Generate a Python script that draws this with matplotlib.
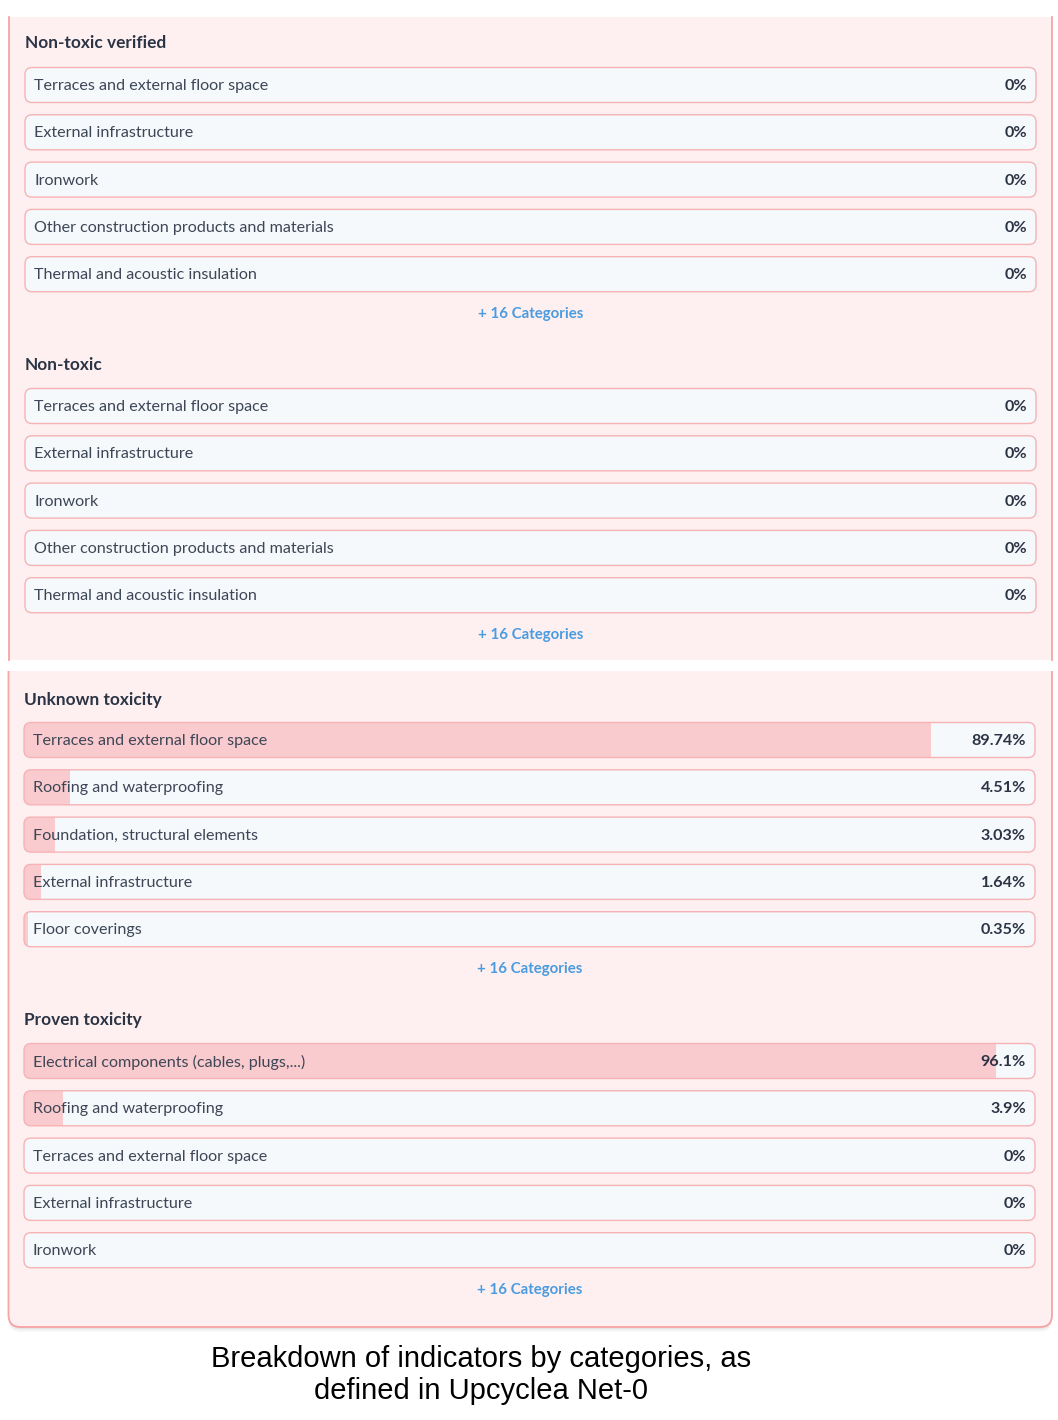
import matplotlib
matplotlib.use("Agg")
import matplotlib.pyplot as plt
from matplotlib.patches import FancyBboxPatch, Rectangle

W, H = 1058, 1420

# --- data -----------------------------------------------------------------
SECTION_TITLES = ["Non-toxic verified", "Non-toxic", "Unknown toxicity", "Proven toxicity"]

NONTOX_VERIFIED_CATS = ["Terraces and external floor space", "External infrastructure", "Ironwork",
                        "Other construction products and materials", "Thermal and acoustic insulation"]
NONTOX_VERIFIED_VALS = [0, 0, 0, 0, 0]

NONTOX_CATS = ["Terraces and external floor space", "External infrastructure", "Ironwork",
               "Other construction products and materials", "Thermal and acoustic insulation"]
NONTOX_VALS = [0, 0, 0, 0, 0]

UNKNOWN_CATS = ["Terraces and external floor space", "Roofing and waterproofing",
                "Foundation, structural elements", "External infrastructure", "Floor coverings"]
UNKNOWN_VALS = [89.74, 4.51, 3.03, 1.64, 0.35]

PROVEN_CATS = ["Electrical components (cables, plugs,...)", "Roofing and waterproofing",
               "Terraces and external floor space", "External infrastructure", "Ironwork"]
PROVEN_VALS = [96.1, 3.9, 0, 0, 0]

MORE_LABEL = "+ 16 Categories"
CAPTION = "Breakdown of indicators by categories, as\ndefined in Upcyclea Net-0"

# --- style ----------------------------------------------------------------
FONT = "Lato"
PANEL_BG = "#FEF0F0"
PANEL_EDGE = "#F7A4A4"
TRACK_BG = "#F5F9FC"
TRACK_EDGE = "#F6B3B5"
FILL = "#FACBCE"
DARK = "#2B3445"
LABEL = "#3D4656"
LINK = "#4A9BE0"

# layout (pixels): heading y, first row centre, track x-range
SECTIONS = [
    (NONTOX_VERIFIED_CATS, NONTOX_VERIFIED_VALS, 42, 85, 25, 1036),
    (NONTOX_CATS, NONTOX_VALS, 363, 406, 25, 1036),
    (UNKNOWN_CATS, UNKNOWN_VALS, 698, 740, 24, 1035),
    (PROVEN_CATS, PROVEN_VALS, 1019, 1061, 24, 1035),
]
PITCH = 47.3
TRACK_H = 35.0

fig = plt.figure(figsize=(W / 100, H / 100), dpi=100)
fig.patch.set_facecolor("white")

bg = fig.add_axes([0, 0, 1, 1])
bg.set_xlim(0, W)
bg.set_ylim(H, 0)
bg.axis("off")

# bottom panel (rounded bottom, shadow), clipped at its top
def clip_rect():
    return Rectangle((0, 671), W, 700, transform=bg.transData)

for off, a in [(5, 0.03), (3, 0.04), (1.5, 0.05)]:
    sh = FancyBboxPatch((8.5, 640), 1043.5, 687 + off, boxstyle="round,pad=0,rounding_size=12",
                        facecolor="black", edgecolor="none", alpha=a)
    bg.add_patch(sh)
    sh.set_clip_path(clip_rect())
p2 = FancyBboxPatch((8.5, 640), 1043.5, 687, boxstyle="round,pad=0,rounding_size=12",
                    facecolor=PANEL_BG, edgecolor=PANEL_EDGE, linewidth=1.3)
bg.add_patch(p2)
p2.set_clip_path(clip_rect())

# top panel (cut at top and bottom)
bg.add_patch(Rectangle((8.5, 17), 1043.5, 643, facecolor=PANEL_BG, edgecolor="none"))
bg.plot([8.5, 8.5], [17, 660], color=PANEL_EDGE, lw=1.3)
bg.plot([1052, 1052], [17, 660], color=PANEL_EDGE, lw=1.3)

tracks_all = []
for cats, vals, head_y, row0, x0, x1 in SECTIONS:
    tw = x1 - x0
    tracks = []
    for i in range(len(cats)):
        yc = row0 + i * PITCH
        t = FancyBboxPatch((x0, yc - TRACK_H / 2), tw, TRACK_H,
                           boxstyle="round,pad=0,rounding_size=7",
                           facecolor=TRACK_BG, edgecolor="none")
        bg.add_patch(t)
        tracks.append(t)
    tracks_all.append(tracks)

    # bar axes: x in percent, rows as categories
    n = len(cats)
    top = row0 - TRACK_H / 2
    bottom = row0 + (n - 1) * PITCH + TRACK_H / 2
    ax = fig.add_axes([x0 / W, 1 - bottom / H, tw / W, (bottom - top) / H])
    ax.patch.set_alpha(0)
    h = TRACK_H / PITCH
    ax.set_xlim(0, 100)
    ax.set_ylim(n - 1 + h / 2, -h / 2)
    ax.axis("off")
    bars = ax.barh(range(n), vals, height=h, color=FILL, edgecolor="none")
    for b, t in zip(bars, tracks):
        b.set_clip_path(t)

# foreground: borders and text
fg = fig.add_axes([0, 0, 1, 1])
fg.set_xlim(0, W)
fg.set_ylim(H, 0)
fg.axis("off")
fg.patch.set_alpha(0)

for (cats, vals, head_y, row0, x0, x1), title in zip(SECTIONS, SECTION_TITLES):
    tw = x1 - x0
    fg.text(x0, head_y + 1.5, title, fontsize=12.4, fontweight="bold", color=DARK,
            family=FONT, va="center", ha="left")
    for i, (c, v) in enumerate(zip(cats, vals)):
        yc = row0 + i * PITCH
        fg.add_patch(FancyBboxPatch((x0, yc - TRACK_H / 2), tw, TRACK_H,
                                    boxstyle="round,pad=0,rounding_size=7",
                                    facecolor="none", edgecolor=TRACK_EDGE, linewidth=1.0))
        fg.text(x0 + 9, yc + 1, c, fontsize=11.6, color=LABEL, family=FONT, va="center", ha="left")
        fg.text(x1 - 9, yc + 1, f"{v:g}%", fontsize=11.6, fontweight="bold", color=DARK,
                family=FONT, va="center", ha="right")
    link_y = row0 + (len(cats) - 1) * PITCH + 39
    fg.text((x0 + x1) / 2, link_y + 1, MORE_LABEL, fontsize=10.8, fontweight="bold",
            color=LINK, family=FONT, va="center", ha="center")

fg.text(481, 1375, CAPTION, fontsize=21, color="black", family="Liberation Sans",
        ha="center", va="center", linespacing=1.15)

fig.savefig("out.png", dpi=100, facecolor="white")
